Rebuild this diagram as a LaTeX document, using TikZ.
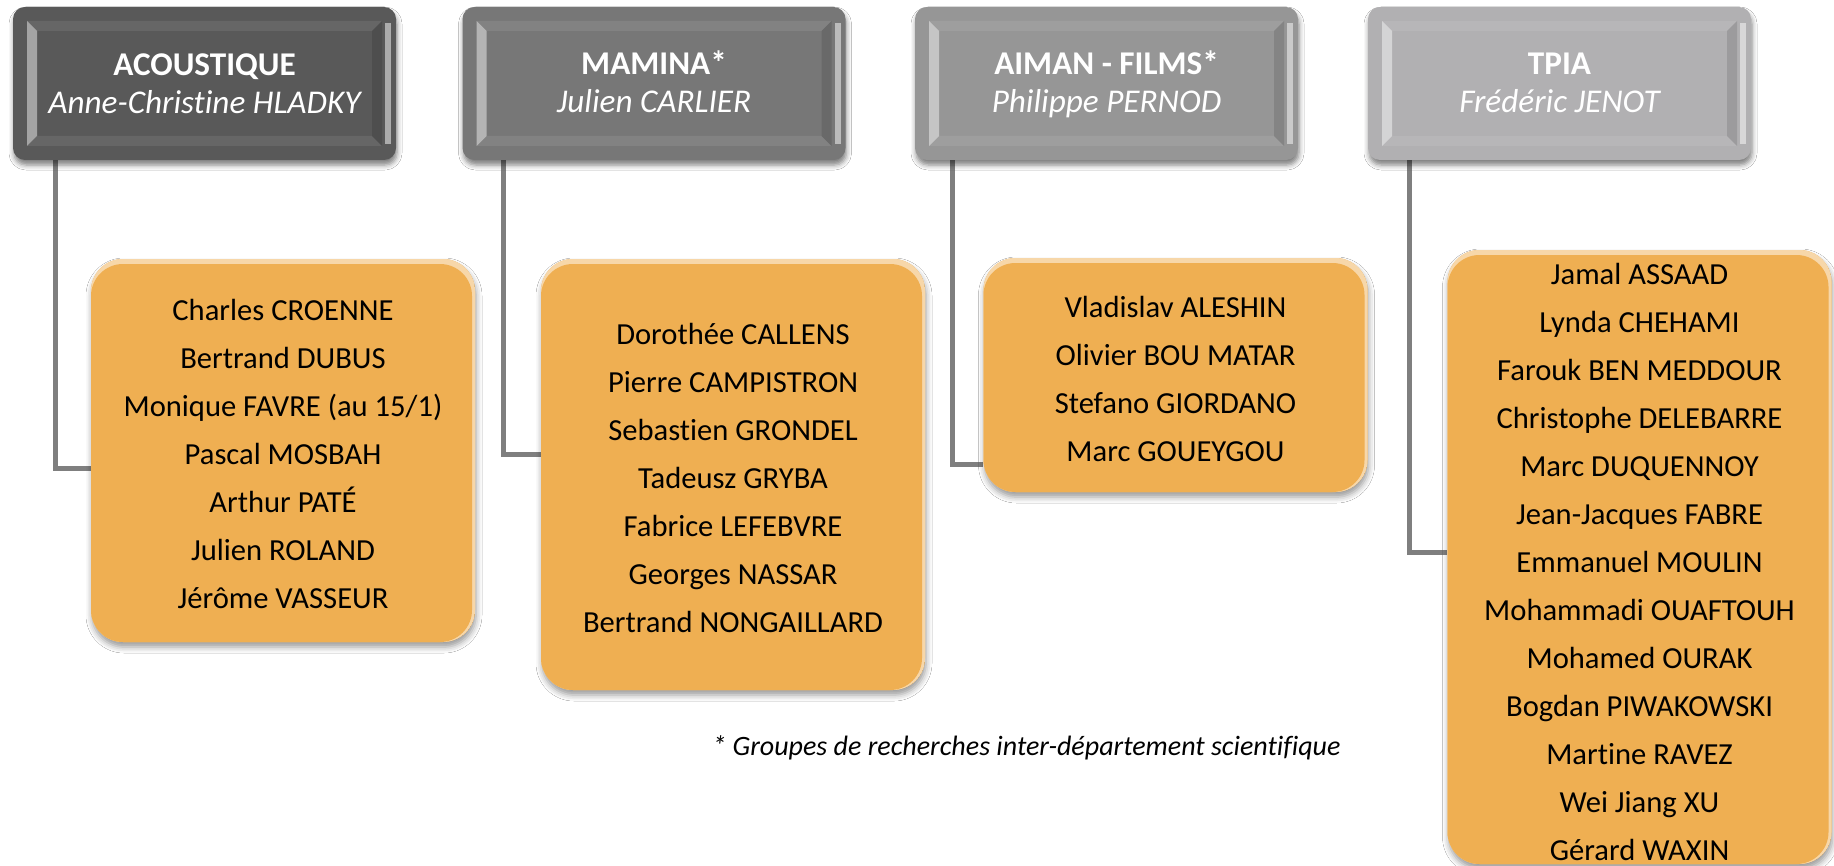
\documentclass[tikz,border=0pt]{standalone}
\usepackage{fontspec}
\setmainfont{Carlito}[Ligatures=NoCommon]
\usetikzlibrary{calc,shadows.blur,backgrounds}
\definecolor{hA}{HTML}{595959}
\definecolor{hB}{HTML}{777777}
\definecolor{hC}{HTML}{969696}
\definecolor{hD}{HTML}{B1B0B2}
\definecolor{orng}{HTML}{EFAF52}
\definecolor{connc}{HTML}{7F7F7F}
\tikzset{
  hdr/.style={fill=#1, rounded corners=6pt, minimum width=191.5pt, minimum height=76.5pt, inner sep=0pt,
    blur shadow={shadow xshift=0.5pt, shadow yshift=-2.5pt, shadow blur radius=2.5pt, shadow opacity=50},
    path picture={
      \coordinate (bnw) at (path picture bounding box.north west);
      \coordinate (bse) at (path picture bounding box.south east);
      \coordinate (bne) at (path picture bounding box.north east);
      \coordinate (bsw) at (path picture bounding box.south west);
      \begin{scope}[sharp corners]
      \fill[#1!92!white] ($(bnw)+(14,14)$) -- ($(bne)+(-14,14)$) -- ($(bne)+(-24,24)$) -- ($(bnw)+(24,24)$) -- cycle;
      \fill[#1!92!white] ($(bsw)+(14,-14)$) -- ($(bse)+(-14,-14)$) -- ($(bse)+(-24,-24)$) -- ($(bsw)+(24,-24)$) -- cycle;
      \fill[#1!55!white] ($(bnw)+(14,14)$) -- ($(bnw)+(24,24)$) -- ($(bsw)+(24,-24)$) -- ($(bsw)+(14,-14)$) -- cycle;
      \fill[#1!88!black] ($(bne)+(-14,14)$) -- ($(bne)+(-24,24)$) -- ($(bse)+(-24,-24)$) -- ($(bse)+(-14,-14)$) -- cycle;
      \fill[white, opacity=.5] ($(bne)+(-11,16)$) rectangle ($(bse)+(-5,-16)$);
      \end{scope}
    }},
  htext/.style={text=white, align=center, font=\fontsize{16.6}{19}\selectfont},
  obox/.style={fill=orng, rounded corners=16pt, minimum width=192pt, inner sep=0pt,
    blur shadow={shadow xshift=0.5pt, shadow yshift=-2.5pt, shadow blur radius=3pt, shadow opacity=40},
    path picture={
      \coordinate (bnw) at (path picture bounding box.north west);
      \coordinate (bse) at (path picture bounding box.south east);
      \fill[orng!50!white] (bnw) rectangle (bse);
      \fill[orng, rounded corners=16pt] ($(bnw)+(0,5)$) rectangle ($(bse)+(-3,0)$);
    }},
  otext/.style={align=center, text=black, font=\fontsize{15.3}{24}\selectfont},
  connline/.style={draw=connc, line width=2.5pt, line join=miter},
}
\begin{document}
\begin{tikzpicture}[x=0.5pt, y=-0.5pt]
\useasboundingbox (0,0) rectangle (1834,866);

% header boxes
\node[hdr=hA] (h1) at (204.5,83.5) {};
\node[hdr=hB] (h2) at (654,83.5) {};
\node[hdr=hC] (h3) at (1106.5,83.5) {};
\node[hdr=hD] (h4) at (1559.5,83.5) {};

% member boxes
\node[obox, minimum height=191.5pt] (o1) at (283,450.5) {};
\node[obox, minimum height=215.5pt] (o2) at (733,474.5) {};
\node[obox, minimum height=117pt] (o3) at (1175.5,375) {};
\node[obox, minimum height=307pt] (o4) at (1639.5,557) {};

% connectors (behind the boxes)
\begin{scope}[on background layer]
\fill[white] (0,0) rectangle (1834,866);
\draw[connline] ([xshift=21.25pt]h1.south west) |- ([yshift=-8.75pt]o1.west);
\draw[connline] ([xshift=20.5pt]h2.south west) |- ([yshift=10.25pt]o2.west);
\draw[connline] ([xshift=19pt]h3.south west) |- ([yshift=-44.5pt]o3.west);
\draw[connline] ([xshift=21pt]h4.south west) |- ([yshift=2.5pt]o4.west);
\end{scope}

% header texts
\node[htext] (t1) at ([yshift=-1.7pt]h1.center) {{\bfseries ACOUSTIQUE\strut}\\{\itshape Anne-Christine HLADKY\strut}};
\node[htext] (t2) at ([yshift=-1.2pt]h2.center) {{\bfseries MAMINA*\strut}\\{\itshape Julien CARLIER\strut}};
\node[htext] (t3) at ([yshift=-1.2pt]h3.center) {{\bfseries AIMAN - FILMS*\strut}\\{\itshape Philippe PERNOD\strut}};
\node[htext] (t4) at ([yshift=-1.2pt]h4.center) {{\bfseries TPIA\strut}\\{\itshape Frédéric JENOT\strut}};

% member texts
\node[otext] (m1) at ([yshift=-2.2pt]o1.center) {Charles CROENNE\strut\\Bertrand DUBUS\strut\\Monique FAVRE (au 15/1)\strut\\Pascal MOSBAH\strut\\Arthur PATÉ\strut\\Julien ROLAND\strut\\Jérôme VASSEUR\strut};
\node[otext] (m2) at ([yshift=-2.2pt]o2.center) {Dorothée CALLENS\strut\\Pierre CAMPISTRON\strut\\Sebastien GRONDEL\strut\\Tadeusz GRYBA\strut\\Fabrice LEFEBVRE\strut\\Georges NASSAR\strut\\Bertrand NONGAILLARD\strut};
\node[otext] (m3) at ([yshift=-2.2pt]o3.center) {Vladislav ALESHIN\strut\\Olivier BOU MATAR\strut\\Stefano GIORDANO\strut\\Marc GOUEYGOU\strut};
\node[otext] (m4) at ([yshift=-3pt]o4.center) {Jamal ASSAAD\strut\\Lynda CHEHAMI\strut\\Farouk BEN MEDDOUR\strut\\Christophe DELEBARRE\strut\\Marc DUQUENNOY\strut\\Jean-Jacques FABRE\strut\\Emmanuel MOULIN\strut\\Mohammadi OUAFTOUH\strut\\Mohamed OURAK\strut\\Bogdan PIWAKOWSKI\strut\\Martine RAVEZ\strut\\Wei Jiang XU\strut\\Gérard WAXIN\strut};

% footnote
\node[anchor=base west, inner sep=0pt, font=\fontsize{14}{16}\selectfont\itshape] (note) at (712,755) {* Groupes de recherches inter-département scientifique};
\end{tikzpicture}
\end{document}
